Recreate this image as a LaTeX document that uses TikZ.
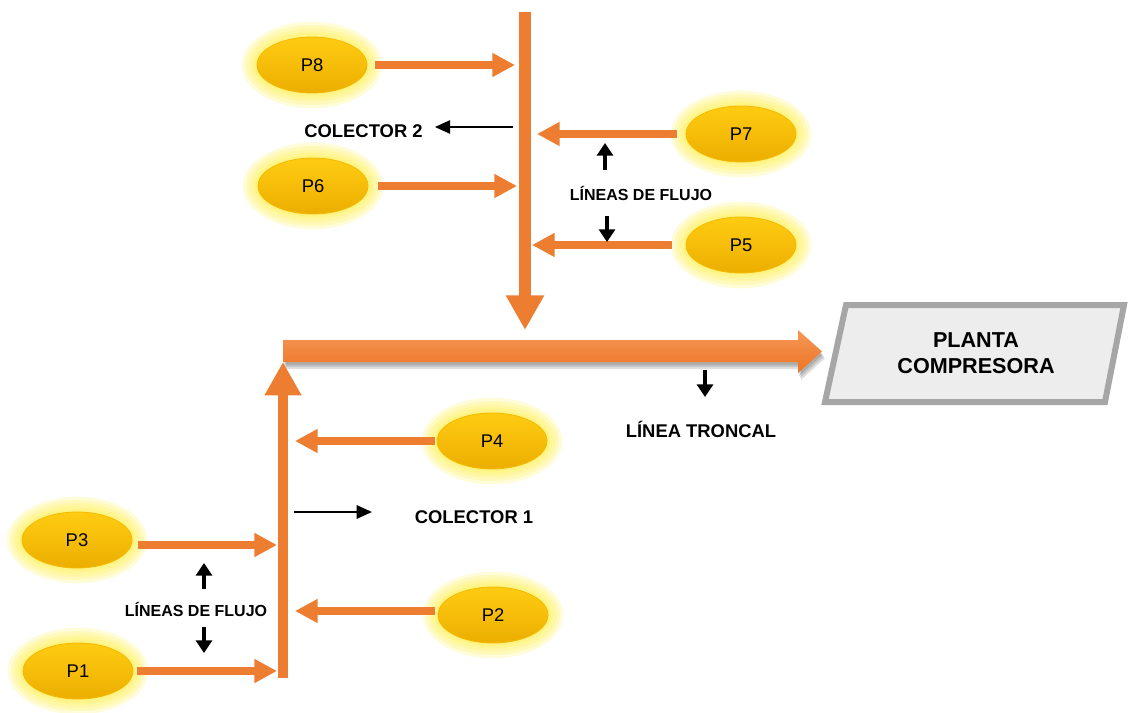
\documentclass[tikz,border=0pt]{standalone}
\usepackage{fontspec}
\setmainfont{Liberation Sans}
\usetikzlibrary{arrows.meta,shapes.geometric}
\definecolor{flowc}{RGB}{237,125,49}
\definecolor{glowc}{RGB}{255,238,70}
\definecolor{welltop}{RGB}{255,204,18}
\definecolor{wellbot}{RGB}{236,174,0}
\definecolor{wellline}{RGB}{245,185,0}
\definecolor{plgray}{RGB}{166,166,166}
\definecolor{plfill}{RGB}{237,237,237}
\definecolor{trtop}{RGB}{245,152,88}
\definecolor{trbot}{RGB}{237,116,34}
\tikzset{
  well/.style={ellipse, minimum width=82.5pt, minimum height=42pt, inner sep=0pt,
    draw=wellline, line width=0.6pt, top color=welltop, bottom color=wellbot,
    font=\fontsize{13.8}{16}\selectfont},
  flow/.style={draw=flowc, line width=6.4pt, -{Triangle[width=17pt,length=17pt]}},
  blkarr/.style={line width=3pt, -{Triangle[width=12pt,length=9.5pt]}},
  thinarr/.style={line width=1.5pt, -{Triangle[width=10pt,length=11.5pt]}},
  lbl/.style={font=\bfseries\fontsize{13.8}{16}\selectfont, inner sep=0pt},
  lblsm/.style={font=\bfseries\fontsize{12}{14}\selectfont, inner sep=0pt},
}
\newcommand\pwell[3]{%
  \foreach \g in {11.5,9,6.5,4,2}{%
    \pgfmathsetmacro\pwrx{41.25+\g}\pgfmathsetmacro\pwry{21+\g}%
    \fill[glowc,opacity=0.2] (#2) ellipse [x radius=\pwrx pt, y radius=\pwry pt];}%
  \node[well] (#1) at (#2) {#3};}
\begin{document}
\begin{tikzpicture}[x=0.75pt,y=-0.75pt]
\useasboundingbox (0,0) rectangle (1128,713);

% wells
\pwell{p8}{312,65}{P8}
\pwell{p6}{313,186}{P6}
\pwell{p7}{741,134}{P7}
\pwell{p5}{741,245}{P5}
\pwell{p4}{492,441}{P4}
\pwell{p2}{493,615}{P2}
\pwell{p3}{77,540}{P3}
\pwell{p1}{78,671}{P1}

% collector 2
\coordinate (c2top) at (525,12);
\coordinate (c2end) at (525,330);
\draw[draw=flowc, line width=9pt, -{Triangle[width=27pt,length=26pt]}] (c2top) -- (c2end);

% trunk line (shadow + shaded arrow)
\foreach \dx/\dy in {3/7,2/5,1/3}{
  \fill[black,opacity=0.12,shift={(\dx,\dy)}] (283,340) -- (798,340) -- (798,330) -- (822,351.5) -- (798,373) -- (798,362) -- (283,362) -- cycle;}
\shade[top color=trtop, bottom color=trbot] (283,340) -- (798,340) -- (798,330) -- (822,351.5) -- (798,373) -- (798,362) -- (283,362) -- cycle;

% collector 1
\coordinate (c1bot) at (283,678);
\coordinate (c1top) at (283,362);
\draw[draw=flowc, line width=8pt, -{Triangle[width=26pt,length=25pt]}] (c1bot) -- (c1top);

% planta compresora
\draw[line width=4.5pt, draw=plgray, fill=plfill] (846,305) -- (1124,305) -- (1105,402) -- (825,402) -- cycle;
\node[font=\bfseries\fontsize{16.2}{19.5}\selectfont, align=center, inner sep=0pt] (planta) at (976,353) {PLANTA\\COMPRESORA};

% flow lines into collector 2
\coordinate (e8) at (515,65);
\coordinate (e6) at (517,186);
\coordinate (e7) at (537,134);
\coordinate (e5) at (532,245);
\draw[flow, shorten <=6pt] (p8.east |- e8) -- (e8);
\draw[flow, shorten <=7.5pt] (p6.east |- e6) -- (e6);
\draw[flow, shorten <=6.75pt] (p7.west |- e7) -- (e7);
\draw[flow, shorten <=10.5pt] (p5.west |- e5) -- (e5);

% flow lines into collector 1
\coordinate (e4) at (295,441);
\coordinate (e2) at (295,611);
\coordinate (e3) at (277,545);
\coordinate (e1) at (277,671);
\draw[flow, shorten <=1.5pt] (p4.west |- e4) -- (e4);
\draw[flow, shorten <=2.25pt] (p2.west |- e2) -- (e2);
\draw[flow, shorten <=4.5pt] (p3.east |- e3) -- (e3);
\draw[flow, shorten <=3pt] (p1.east |- e1) -- (e1);

% labels
\node[lbl] (col2) at (363.5,131) {COLECTOR 2};
\node[lbl] (col1) at (474,517) {COLECTOR 1};
\node[lblsm] (lf2) at (641,193) {LÍNEAS DE FLUJO};
\node[lblsm] (lf1) at (196,609) {LÍNEAS DE FLUJO};
\node[lbl] (tronc) at (701,429) {LÍNEA TRONCAL};

% black arrows
\coordinate (k2) at (513,127);
\draw[thinarr, shorten >=9pt] (k2) -- (k2 -| col2.east);
\coordinate (k1) at (294,512);
\draw[thinarr, shorten >=32pt] (k1) -- (k1 -| col1.west);

\coordinate (u2a) at (605,170); \coordinate (u2b) at (605,143);
\coordinate (d2a) at (607,216); \coordinate (d2b) at (607,242);
\coordinate (u1a) at (204,589); \coordinate (u1b) at (204,563);
\coordinate (d1a) at (204,627); \coordinate (d1b) at (204,653);
\coordinate (tra) at (705,370); \coordinate (trb) at (705,397);
\draw[blkarr] (u2a) -- (u2b);
\draw[blkarr] (d2a) -- (d2b);
\draw[blkarr] (u1a) -- (u1b);
\draw[blkarr] (d1a) -- (d1b);
\draw[blkarr] (tra) -- (trb);
\end{tikzpicture}
\end{document}
